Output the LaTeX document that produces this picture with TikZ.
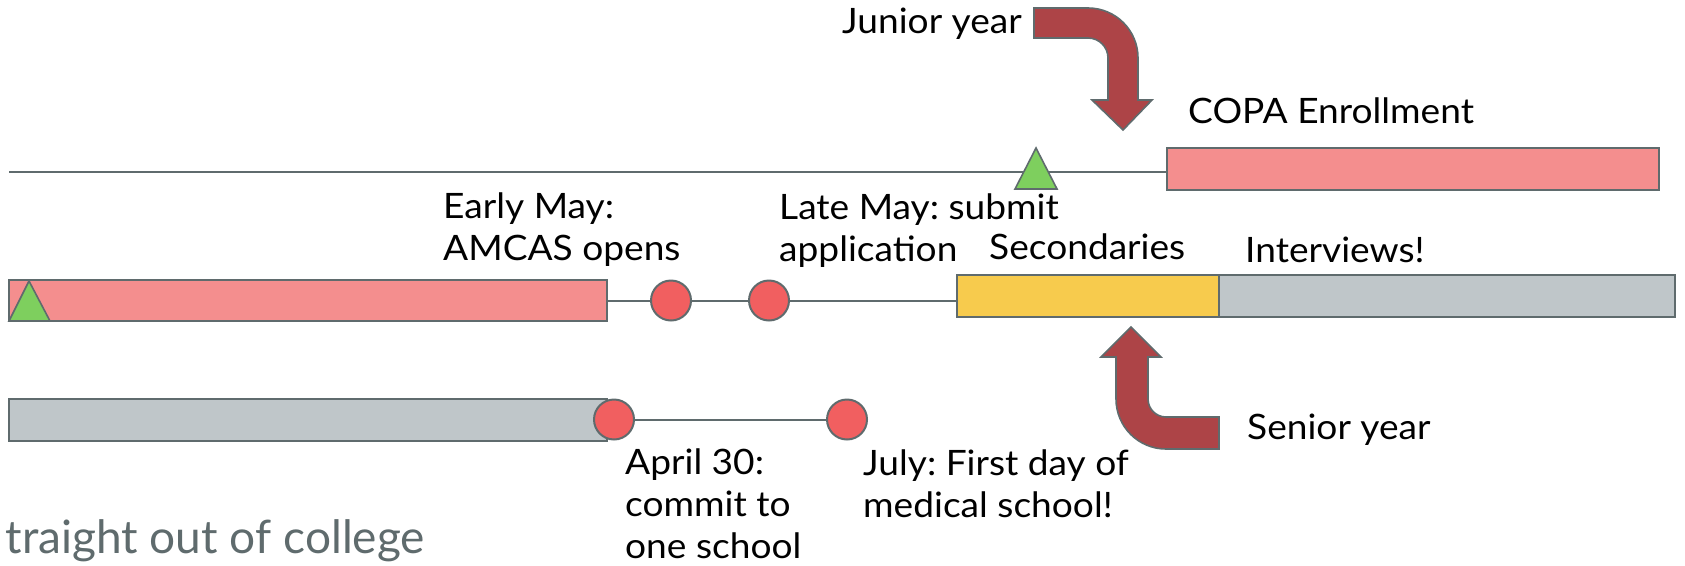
\documentclass[tikz,border=0pt]{standalone}
\usepackage{fontspec}
\setmainfont{Lato}
\newfontfamily\lblfont[FakeStretch=1.06]{Lato}
\frenchspacing
\definecolor{outl}{RGB}{95,107,109}
\definecolor{pinkbox}{RGB}{244,142,142}
\definecolor{dotred}{RGB}{241,95,96}
\definecolor{trigreen}{RGB}{126,207,94}
\definecolor{yelbox}{RGB}{247,203,77}
\definecolor{graybox}{RGB}{191,198,201}
\definecolor{arrowred}{RGB}{173,68,71}
\definecolor{subgray}{RGB}{95,107,109}
\tikzset{
  bar/.style={draw=outl, line width=2pt, rectangle, inner sep=0pt},
  dot/.style={draw=outl, line width=2pt, circle, fill=dotred, minimum size=40pt, inner sep=0pt},
  tri/.style={draw=outl, line width=1.6pt, fill=trigreen, line join=miter},
  link/.style={draw=outl, line width=2pt},
  bigarrow/.style={draw=outl, line width=1.6pt, fill=arrowred, line join=miter},
  lbl/.style={font=\lblfont\fontsize{35}{42}\selectfont\frenchspacing, inner sep=0pt, anchor=base west, align=left, text=black},
}
\begin{document}
\begin{tikzpicture}[x=1pt,y=-1pt]
\useasboundingbox[fill=white] (0,0) rectangle (1685,565);

% top row
\coordinate (topstart) at (9,172);
\node[bar, fill=pinkbox, minimum width=492pt, minimum height=42pt] (copa) at (1413,169) {};
\draw[link] (topstart) -- (topstart -| copa.west);
\draw[tri] (1015,189) -- (1036,148) -- (1057,189) -- cycle;

% middle row
\node[bar, fill=pinkbox, minimum width=598pt, minimum height=41pt] (amcas) at (308,300.5) {};
\node[bar, fill=yelbox, minimum width=262pt, minimum height=42pt] (second) at (1088,295.5) {};
\node[bar, fill=graybox, minimum width=456pt, minimum height=42pt] (interv) at (1447,295.5) {};
\draw[link] (amcas.east) -- (amcas.east -| second.west);
\node[dot] (open) at (671,300.5) {};
\node[dot] (submit) at (769,300.5) {};
\draw[tri] (9,321) -- (29,281) -- (50,321) -- cycle;

% bottom row
\node[bar, fill=graybox, minimum width=598pt, minimum height=42pt] (college) at (308,420) {};
\node[dot] (commit) at (614,419.5) {};
\node[dot] (firstday) at (847,419.5) {};
\draw[link] (commit) -- (firstday);

% bent arrows
\draw[bigarrow] (1034,8) -- (1088,8) arc[start angle=-90, end angle=0, radius=50]
  -- (1138,100) -- (1152,100) -- (1123,130) -- (1092,100) -- (1108,100) -- (1108,58)
  arc[start angle=0, end angle=-90, radius=20] -- (1034,38) -- cycle;
\draw[bigarrow] (1219,449) -- (1166,449) arc[start angle=90, end angle=180, radius=50]
  -- (1116,357) -- (1101,357) -- (1131,327) -- (1161,357) -- (1148,357) -- (1148,399)
  arc[start angle=180, end angle=90, radius=18] -- (1219,417) -- cycle;

% labels (multi-line labels are anchored at the baseline of their last line)
\node[lbl] (junior) at (842,33) {Junior year};
\node[lbl] (copalbl) at (1188,123) {COPA Enrollment};
\node[lbl] (early) at (443,260) {Early May:\\AMCAS opens};
\node[lbl] (late) at (779,261) {Late May: submit\\application};
\node[lbl] (seclbl) at (989,259) {Secondaries};
\node[lbl] (intlbl) at (1245,262) {Interviews!};
\node[lbl] (senior) at (1247,439) {Senior year};
\node[lbl] (april) at (625,558) {April 30:\\commit to\\one school};
\node[lbl] (july) at (863,517) {July: First day of\\medical school!};
\node[font=\fontsize{46}{55}\selectfont, text=subgray, inner sep=0pt, anchor=base east] (title) at (425,553) {traight out of college};
\end{tikzpicture}
\end{document}
